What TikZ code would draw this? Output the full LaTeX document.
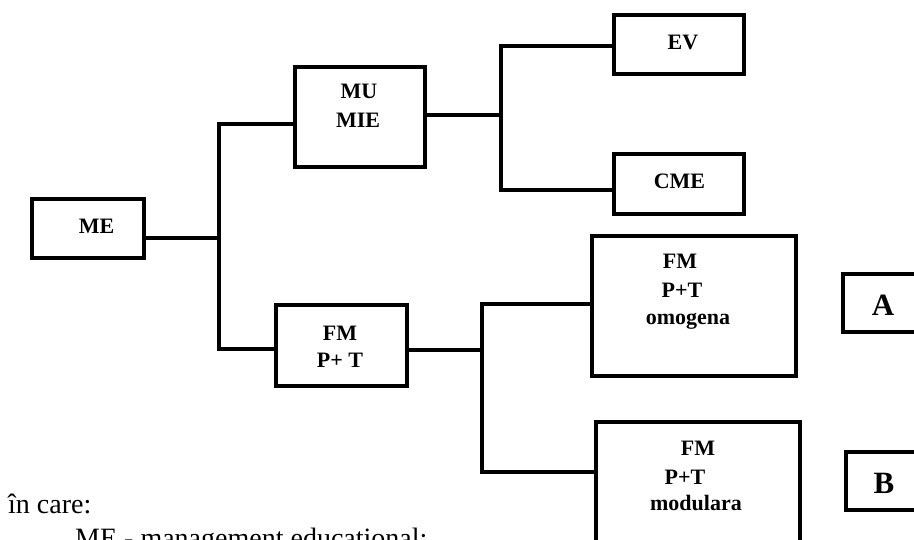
\documentclass[tikz,border=0pt]{standalone}
\usepackage{fontspec}
\setmainfont{Liberation Serif}
\begin{document}
\begin{tikzpicture}[x=1pt,y=-1pt,
  box/.style={draw,line width=3.6pt,inner sep=0pt,outer sep=0pt,line join=miter},
  conn/.style={line width=3.4pt,line join=miter},
  lbl/.style={anchor=base,inner sep=0pt,font=\fontsize{22}{26}\selectfont\bfseries},
  big/.style={anchor=base,inner sep=0pt,font=\fontsize{31}{36}\selectfont\bfseries},
  note/.style={anchor=base west,inner sep=0pt,font=\fontsize{28}{32}\selectfont}]
\useasboundingbox (0,0) rectangle (914,539);
\clip (0,0) rectangle (914,539);
% boxes
\node[box,minimum width=112pt,minimum height=59pt]  (ME)  at (88,228.5) {};
\node[box,minimum width=130pt,minimum height=100pt] (MU)  at (360,117) {};
\node[box,minimum width=130pt,minimum height=59pt]  (EV)  at (679,44.5) {};
\node[box,minimum width=130pt,minimum height=60pt]  (CME) at (679,184) {};
\node[box,minimum width=204pt,minimum height=140pt] (OM)  at (694,306) {};
\node[box,minimum width=131pt,minimum height=81pt]  (FM)  at (341.5,345.5) {};
\node[box,minimum width=204pt,minimum height=160pt] (MO)  at (698,501.7) {};
\node[box,minimum width=120pt,minimum height=58pt]  (A)   at (903,303) {};
\node[box,minimum width=120pt,minimum height=58pt]  (B)   at (906,481) {};
% labels
\node[lbl] (meT)  at (96.7,233) {ME};
\node[lbl] (muT1) at (359,98) {MU};
\node[lbl] (muT2) at (358,127.7) {MIE};
\node[lbl] (evT)  at (683,49) {EV};
\node[lbl] (cmeT) at (679.5,188) {CME};
\node[lbl] (omT1) at (680,268) {FM};
\node[lbl] (omT2) at (682,297) {P+T};
\node[lbl] (omT3) at (688,324) {omogena};
\node[lbl] (fmT1) at (340,340) {FM};
\node[lbl] (fmT2) at (340,367) {P+ T};
\node[lbl] (moT1) at (698,455) {FM};
\node[lbl] (moT2) at (685,484) {P+T};
\node[lbl] (moT3) at (696,510) {modulara};
\node[big] (aT) at (883,315) {A};
\node[big] (bT) at (884,493) {B};
% notes
\node[note] (n1) at (8,513.5) {în care:};
\node[note] (n2) at (75,547) {ME - management educational;};
% junction coordinates
\coordinate (a0) at (219,238);
\coordinate (a1) at (219,124);
\coordinate (a2) at (219,349);
\coordinate (b0) at (501,115);
\coordinate (b1) at (501,46);
\coordinate (b2) at (501,190);
\coordinate (c0) at (482,350);
\coordinate (c1) at (482,304);
\coordinate (c2) at (482,472);
% connectors
\draw[conn] (ME.east |- a0) -- (a0);
\draw[conn] (MU.west |- a1) -- (a1) -- (a2) -- (FM.west |- a2);
\draw[conn] (MU.east |- b0) -- (b0);
\draw[conn] (EV.west |- b1) -- (b1) -- (b2) -- (CME.west |- b2);
\draw[conn] (FM.east |- c0) -- (c0);
\draw[conn] (OM.west |- c1) -- (c1) -- (c2) -- (MO.west |- c2);
\end{tikzpicture}
\end{document}
